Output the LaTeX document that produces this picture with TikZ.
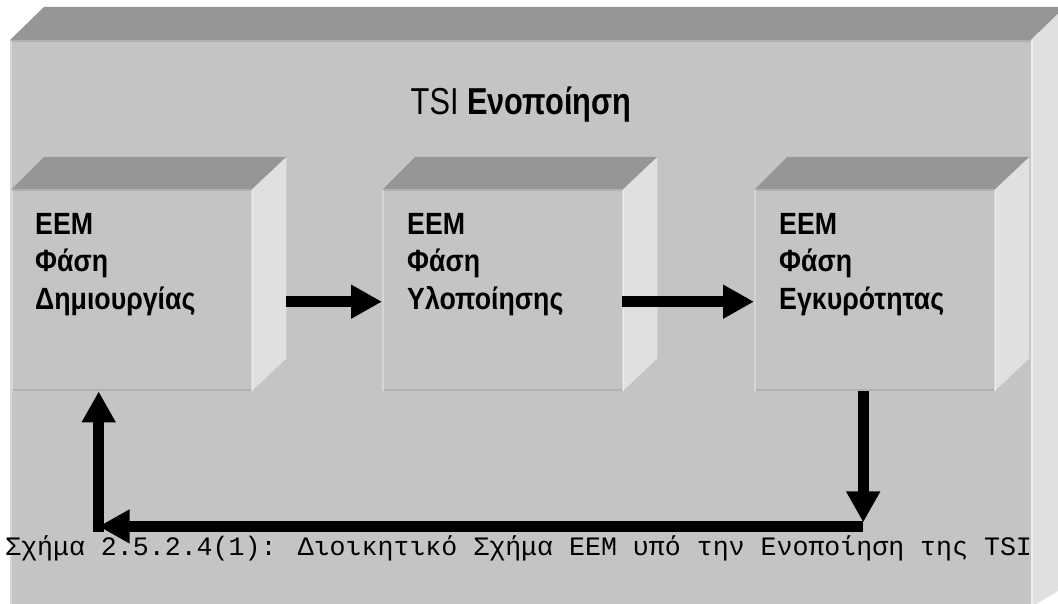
\documentclass[tikz,border=0pt]{standalone}
\usepackage{fontspec}
\usetikzlibrary{arrows.meta,calc}
\setmainfont{Liberation Sans}
\newfontfamily\boxfont[FakeStretch=0.87]{Liberation Sans}
\newfontfamily\headfont[FakeStretch=0.82]{Liberation Sans}
\newfontfamily\capfont{Liberation Mono}
\definecolor{faceC}{RGB}{196,196,196}
\definecolor{topC}{RGB}{150,150,150}
\definecolor{sideC}{RGB}{224,224,224}
\definecolor{edgeD}{RGB}{176,176,176}
\definecolor{edgeL}{RGB}{214,214,214}
\tikzset{
  front/.style={fill=faceC, draw=none, inner sep=0pt, minimum width=240pt, minimum height=201pt},
  topface/.style={fill=topC},
  sideface/.style={fill=sideC},
  boxtext/.style={font=\boxfont\bfseries\fontsize{30.7}{37.5}\selectfont, align=left, inner sep=0pt, anchor=north west},
  arr/.style={line width=11pt, -{Triangle[length=31pt,width=32pt]}},
  bar/.style={line width=11pt}
}
\begin{document}
\begin{tikzpicture}[x=1pt,y=-1pt]
\useasboundingbox (0,0) rectangle (1058,604);
\clip (0,0) rectangle (1058,604);
\fill[white] (0,0) rectangle (1058,604);
% outer container box
\fill[topface] (10,40) -- (44,7) -- (1065,7) -- (1031,40) -- cycle;
\fill[sideface] (1031,40) -- (1065,7) -- (1065,587) -- (1031,607) -- cycle;
\fill[faceC] (10,40) rectangle (1031,607);
\draw[edgeD, line width=2pt] (10,41) -- (1031,41);
\draw[edgeL, line width=2pt] (11,41) -- (11,607);
\draw[white!93!black, line width=1.5pt] (1032,40) -- (1032,607);
% heading
\node[font=\headfont\fontsize{37.5}{40}\selectfont, anchor=base, inner sep=0pt] (head) at (521,115) {TSI \bfseries Ενοποίηση};
% the three phase boxes (front faces)
\node[front, anchor=north west] (b1) at (11,190) {};
\node[front, anchor=north west] (b2) at (382,190) {};
\node[front, anchor=north west] (b3) at (754,190) {};
\foreach \b in {b1,b2,b3}{
  \fill[topface] (\b.north west) -- ++(33,-33) -- ($(\b.north east)+(35,-33)$) -- (\b.north east) -- cycle;
  \fill[sideface] (\b.north east) -- ++(35,-33) -- ($(\b.south east)+(35,-33)$) -- (\b.south east) -- cycle;
  \draw[white!92!black, line width=1.5pt] ($(\b.north east)+(1,0)$) -- ($(\b.south east)+(1,0)$);
  \draw[edgeD, line width=1.5pt] (\b.north west) -- (\b.north east);
  \draw[edgeD, line width=2pt] ($(\b.south west)+(0,-1)$) -- ($(\b.south east)+(0,-1)$);
  \draw[edgeL, line width=2pt] ($(\b.north west)+(1,0)$) -- ($(\b.south west)+(1,0)$);
}
\node[boxtext] (t1) at ($(b1.north west)+(24,23)$) {ΕΕΜ\\Φάση\\Δημιουργίας};
\node[boxtext] (t2) at ($(b2.north west)+(25,23)$) {ΕΕΜ\\Φάση\\Υλοποίησης};
\node[boxtext] (t3) at ($(b3.north west)+(25,23)$) {ΕΕΜ\\Φάση\\Εγκυρότητας};
% connectors
\coordinate (a1) at ($(b1.east)+(35,11)$);
\coordinate (a2) at ($(b2.east)+(0,11)$);
\draw[arr] (a1) -- (a1 -| b2.west);
\draw[arr] (a2) -- (a2 -| b3.west);
\coordinate (d0) at ($(b3.south)+(-11,0)$);
\coordinate (c1) at ($(d0)+(0,135)$);
\coordinate (c2) at ($(c1 -| b1.south)+(-32.5,0)$);
\draw[arr] (d0) -- ($(d0)+(0,131)$);
\draw[bar, -{Triangle[length=31pt,width=32pt]}] (c1) -- (c2);
\coordinate (u0) at ($(c2)+(0,5.5)$);
\draw[arr] (u0) -- (u0 |- b1.south);
% caption
\node[font=\capfont\fontsize{26.6}{30}\selectfont, anchor=base west, inner sep=0pt] (cap) at (5,555) {Σχήμα 2.5.2.4(1): Διοικητικό Σχήμα ΕΕΜ υπό την Ενοποίηση της TSI};
\end{tikzpicture}
\end{document}
